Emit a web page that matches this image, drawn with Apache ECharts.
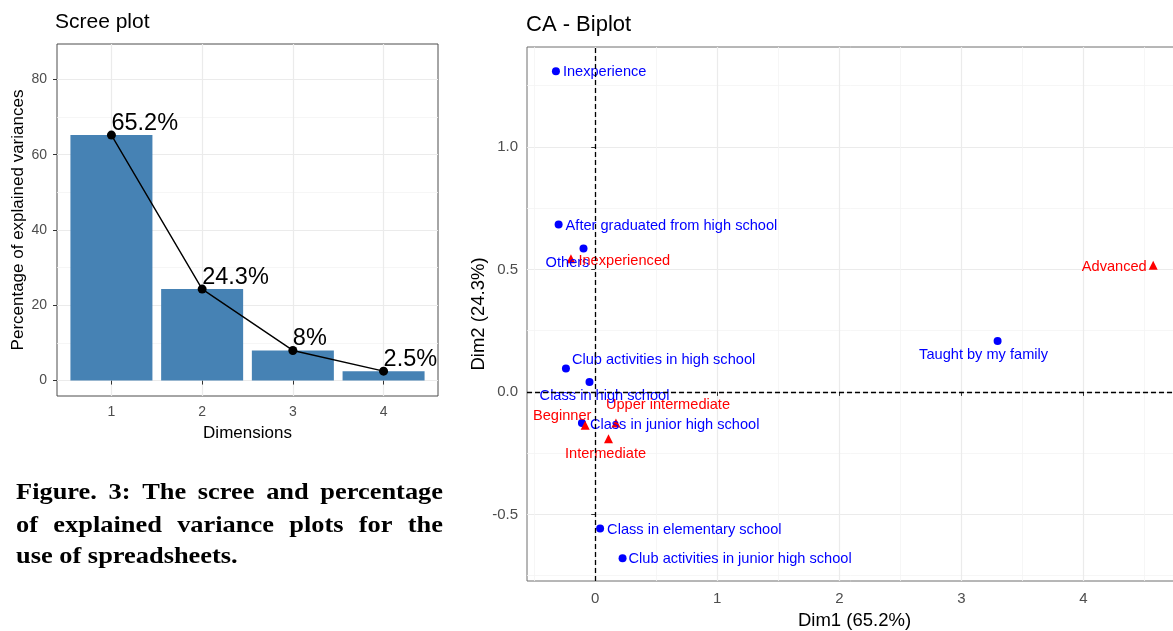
<!DOCTYPE html>
<html>
<head>
<meta charset="utf-8">
<script src="https://cdn.jsdelivr.net/npm/echarts@6/dist/echarts.min.js"></script>
<style>
  html, body { margin: 0; padding: 0; background: #ffffff; }
  #chart { width: 1173px; height: 631px; }
</style>
</head>
<body>
<div id="chart"></div>
<script>
// ---- Scree plot: percentage of explained variance per dimension ----
const screeDims = [1, 2, 3, 4];
const screeVariance = [65.2, 24.3, 8, 2.5];
const screeYTicks = [0, 20, 40, 60, 80];
const screeYMinor = [10, 30, 50, 70];

// ---- CA biplot: row categories (blue) ----
const rowNames = [
  'Inexperience',
  'After graduated from high school',
  'Others',
  'Club activities in high school',
  'Class in high school',
  'Class in junior high school',
  'Class in elementary school',
  'Club activities in junior high school',
  'Taught by my family'
];
const rowDim1 = [-0.322, -0.300, -0.096, -0.240, -0.047, -0.109, 0.040, 0.224, 3.297];
const rowDim2 = [1.309, 0.683, 0.585, 0.095, 0.040, -0.127, -0.558, -0.679, 0.208];

// ---- CA biplot: column categories (red) ----
const colNames = ['Inexperienced', 'Advanced', 'Beginner', 'Upper intermediate', 'Intermediate'];
const colDim1 = [-0.199, 4.572, -0.082, 0.170, 0.109];
const colDim2 = [0.544, 0.517, -0.136, -0.127, -0.191];

const biplotXTicks = [0, 1, 2, 3, 4];
const biplotXMinor = [-0.5, 0.5, 1.5, 2.5, 3.5, 4.5];
const biplotYTicks = [-0.5, 0, 0.5, 1.0];
const biplotYMinor = [-0.75, -0.25, 0.25, 0.75, 1.25];

const captionLines = [
  'Figure. 3: The scree and percentage',
  'of explained variance plots for the',
  'use of spreadsheets.'
];

// ---- styling ----
const SANS = '"Liberation Sans", Arial, sans-serif';
const SERIF = '"Liberation Serif", "Times New Roman", serif';
const GRID_MAJOR = '#EBEBEB';
const GRID_MINOR = '#F4F4F4';
const TICK_TEXT = '#4D4D4D';

// label placement for the repelled text of the biplot (style only)
const rowLabelPlace = {
  'Inexperience': { position: 'right', distance: 3, offset: [0, 1] },
  'After graduated from high school': { position: 'right', distance: 3, offset: [0, 1] },
  'Others': { position: 'inside', offset: [-16, 14] },
  'Club activities in high school': { position: 'right', distance: 2, offset: [0, -9] },
  'Class in high school': { position: 'inside', offset: [15, 14] },
  'Class in junior high school': { position: 'right', distance: 4, offset: [0, 2] },
  'Class in elementary school': { position: 'right', distance: 3, offset: [0, 1] },
  'Club activities in junior high school': { position: 'right', distance: 2, offset: [0, 1] },
  'Taught by my family': { position: 'inside', offset: [-14, 14] }
};
const colLabelPlace = {
  'Inexperienced': { position: 'right', distance: 3, offset: [0, 2] },
  'Advanced': { position: 'left', distance: 2, offset: [0, 2] },
  'Beginner': { position: 'inside', offset: [-23, -9] },
  'Upper intermediate': { position: 'inside', offset: [52, -18] },
  'Intermediate': { position: 'inside', offset: [-3, 15] }
};

function majorAxis(gridIndex, min, max, ticks, fmt, labelSize, labelMargin, extra) {
  return Object.assign({
    type: 'value', gridIndex, min, max,
    axisLine: { show: false },
    axisTick: { show: true, inside: false, length: 4, customValues: ticks,
                lineStyle: { color: '#333333', width: 1 } },
    axisLabel: { show: true, customValues: ticks, margin: labelMargin, color: TICK_TEXT,
                 fontFamily: SANS, fontSize: labelSize, formatter: fmt },
    splitLine: { show: true, customValues: ticks, lineStyle: { color: GRID_MAJOR, width: 1.2 } }
  }, extra || {});
}
function minorAxis(gridIndex, min, max, ticks, position) {
  return {
    type: 'value', gridIndex, min, max, position,
    axisLine: { show: false },
    axisTick: { show: false, customValues: ticks },
    axisLabel: { show: false, customValues: ticks },
    splitLine: { show: true, customValues: ticks, lineStyle: { color: GRID_MINOR, width: 0.8 } }
  };
}

const chart = echarts.init(document.getElementById('chart'), null, { renderer: 'canvas' });

const screeData = screeDims.map((d, i) => [d, screeVariance[i]]);
const rowData = rowNames.map((n, i) => ({
  name: n, value: [rowDim1[i], rowDim2[i]],
  label: Object.assign({}, rowLabelPlace[n])
}));
const colData = colNames.map((n, i) => ({
  name: n, value: [colDim1[i], colDim2[i]],
  label: Object.assign({}, colLabelPlace[n])
}));

// caption words spread over the full text width (justified)
const measureCtx = document.createElement('canvas').getContext('2d');
const CAP_SIZE = 24, CAP_SCALE = 1.1, CAP_LEFT = 16, CAP_RIGHT = 443;
const capFont = 'bold ' + CAP_SIZE + 'px ' + SERIF;
measureCtx.font = capFont;
const captionGraphics = [];
const capBaselines = [481, 513.5, 545];
captionLines.forEach((line, li) => {
  const words = line.split(' ');
  const widths = words.map(w => measureCtx.measureText(w).width * CAP_SCALE);
  const justify = li < captionLines.length - 1;
  const total = widths.reduce((a, b) => a + b, 0);
  const gap = justify ? (CAP_RIGHT - CAP_LEFT - total) / (words.length - 1)
                      : measureCtx.measureText(' ').width * CAP_SCALE;
  let x = CAP_LEFT;
  words.forEach((w, wi) => {
    captionGraphics.push({
      type: 'text', x: x, y: capBaselines[li], scaleX: CAP_SCALE,
      style: { text: w, font: capFont, fill: '#000000', verticalAlign: 'alphabetic', align: 'left' }
    });
    x += widths[wi] + gap;
  });
});

const option = {
  backgroundColor: '#ffffff',
  animation: false,
  title: [
    { text: 'Scree plot', left: 55, top: 12, padding: 0,
      textStyle: { fontFamily: SANS, fontSize: 21, fontWeight: 'normal', color: '#000' } },
    { text: 'CA - Biplot', left: 526, top: 14, padding: 0,
      textStyle: { fontFamily: SANS, fontSize: 22, fontWeight: 'normal', color: '#000' } }
  ],
  grid: [
    { left: 57, top: 44, right: 735, bottom: 235, show: true, borderColor: '#4D4D4D', borderWidth: 1,
      containLabel: false, outerBoundsMode: 'none' },
    { left: 527, top: 47, right: -9, bottom: 50, show: true, borderColor: '#6E6E6E', borderWidth: 1,
      containLabel: false, outerBoundsMode: 'none' }
  ],
  xAxis: [
    majorAxis(0, 0.4, 4.6, screeDims, v => String(v), 14, 9, {
      name: 'Dimensions', nameLocation: 'middle', nameGap: 29,
      nameTextStyle: { fontFamily: SANS, fontSize: 17, color: '#000' }
    }),
    majorAxis(1, -0.559, 4.808, biplotXTicks, v => String(v), 15, 10, {
      name: 'Dim1 (65.2%)', nameLocation: 'middle', nameGap: 30,
      nameTextStyle: { fontFamily: SANS, fontSize: 18.5, color: '#000' }
    }),
    minorAxis(1, -0.559, 4.808, biplotXMinor, 'bottom')
  ],
  yAxis: [
    majorAxis(0, -4.1, 89.4, screeYTicks, v => String(v), 14, 10, {
      name: 'Percentage of explained variances', nameLocation: 'middle', nameGap: 30,
      nameTextStyle: { fontFamily: SANS, fontSize: 17, color: '#000' }
    }),
    minorAxis(0, -4.1, 89.4, screeYMinor, 'left'),
    majorAxis(1, -0.772, 1.408, biplotYTicks, v => v.toFixed(1), 15, 9, {
      name: 'Dim2 (24.3%)', nameLocation: 'middle', nameGap: 39, nameMoveOverlap: false,
      nameTextStyle: { fontFamily: SANS, fontSize: 18.5, color: '#000' }
    }),
    minorAxis(1, -0.772, 1.408, biplotYMinor, 'left')
  ],
  graphic: captionGraphics,
  series: [
    {
      type: 'bar', xAxisIndex: 0, yAxisIndex: 0, data: screeData,
      barWidth: 82, itemStyle: { color: '#4682B4' }, silent: true, z: 2
    },
    {
      type: 'line', xAxisIndex: 0, yAxisIndex: 0, data: screeData,
      symbol: 'circle', symbolSize: 9, showAllSymbol: true,
      lineStyle: { color: '#000', width: 1.4 }, itemStyle: { color: '#000' },
      label: {
        show: true, position: 'top', align: 'left', distance: 0, offset: [0, 5],
        fontFamily: SANS, fontSize: 23.5, color: '#000',
        formatter: p => p.value[1] + '%'
      },
      z: 3
    },
    {
      type: 'scatter', xAxisIndex: 1, yAxisIndex: 2, data: rowData,
      symbol: 'circle', symbolSize: 8, itemStyle: { color: '#0000FF', opacity: 1 },
      label: { show: true, formatter: '{b}', fontFamily: SANS, fontSize: 14.6, color: '#0000FF' },
      markLine: {
        silent: true, symbol: ['none', 'none'], label: { show: false },
        lineStyle: { type: [5, 3], color: '#000', width: 1.3, opacity: 1 },
        data: [{ xAxis: 0 }, { yAxis: 0 }]
      },
      z: 4
    },
    {
      type: 'scatter', xAxisIndex: 1, yAxisIndex: 2, data: colData,
      symbol: 'triangle', symbolSize: 9, itemStyle: { color: '#FF0000', opacity: 1 },
      label: { show: true, formatter: '{b}', fontFamily: SANS, fontSize: 14.6, color: '#FF0000' },
      z: 4
    }
  ]
};

chart.setOption(option);
</script>
</body>
</html>
